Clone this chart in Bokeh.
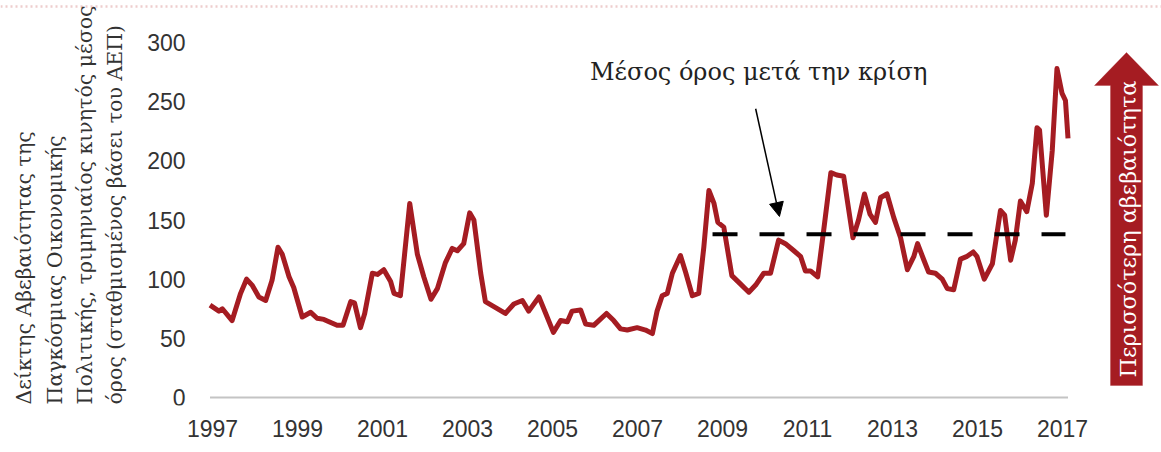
import math
from bokeh.plotting import figure
from bokeh.models import Range1d, FixedTicker, Label, Arrow, NormalHead, PolyAnnotation, BoxAnnotation
from bokeh.embed import file_html
from bokeh.resources import INLINE

# ---- data ----
years = [
    1996.94, 1997.15, 1997.23, 1997.46, 1997.66, 1997.80, 1997.93,
    1998.09, 1998.25, 1998.40, 1998.54, 1998.64, 1998.80, 1998.91,
    1999.11, 1999.31, 1999.46, 1999.62, 1999.74, 1999.93,
    2000.07, 2000.25, 2000.34, 2000.48, 2000.58, 2000.76, 2000.88,
    2001.03, 2001.19, 2001.27, 2001.42, 2001.64, 2001.82, 2001.97,
    2002.14, 2002.29, 2002.48, 2002.64, 2002.76, 2002.91,
    2003.05, 2003.15, 2003.31, 2003.42, 2003.66, 2003.89,
    2004.09, 2004.29, 2004.44, 2004.68, 2004.84,
    2005.02, 2005.19, 2005.35, 2005.46, 2005.66, 2005.78, 2005.97,
    2006.09, 2006.27, 2006.44, 2006.60, 2006.76, 2006.99,
    2007.19, 2007.35, 2007.46, 2007.58, 2007.70, 2007.82,
    2008.01, 2008.13, 2008.29, 2008.44, 2008.56, 2008.68, 2008.80, 2008.89,
    2009.03, 2009.22, 2009.42, 2009.62, 2009.78, 2009.97,
    2010.13, 2010.32, 2010.48, 2010.68, 2010.84, 2010.95,
    2011.07, 2011.24, 2011.38, 2011.55, 2011.69, 2011.85,
    2012.07, 2012.20, 2012.34, 2012.47, 2012.60, 2012.72, 2012.87,
    2013.03, 2013.19, 2013.35, 2013.50, 2013.59, 2013.74, 2013.85,
    2014.01, 2014.17, 2014.29, 2014.44, 2014.60, 2014.74, 2014.90, 2014.99,
    2015.16, 2015.35, 2015.54, 2015.64, 2015.78, 2015.89,
    2016.01, 2016.16, 2016.29, 2016.40, 2016.46, 2016.62, 2016.76, 2016.87, 2016.99,
    2017.07, 2017.13,
]
gepu = [
    78, 73, 75, 65, 88, 100, 95,
    85, 82, 99, 127, 121, 102, 93,
    68, 72, 67, 66, 64, 61,
    61, 81, 80, 59, 71, 105, 104,
    108, 98, 88, 86, 164, 121, 102,
    83, 92, 114, 126, 124, 130,
    156, 150, 105, 81, 76, 71,
    79, 82, 73, 85, 71,
    55, 65, 64, 73, 74, 62, 61,
    65, 71, 65, 58, 57, 59,
    57, 54, 73, 86, 88, 105,
    120, 106, 86, 88, 127, 175, 164, 148,
    144, 103, 96, 89, 95, 105,
    105, 133, 130, 124, 119, 107,
    107, 102, 141, 190, 188, 187,
    135, 150, 172, 155, 148, 169, 172,
    152, 135, 108, 119, 130, 116, 106,
    105, 100, 92, 91, 117, 119, 123, 119,
    100, 113, 158, 154, 116, 133,
    166, 157, 181, 228, 226, 154, 209, 278, 257,
    251, 219,
]

x_ticks = list(range(1997, 2018, 2))
y_ticks = [0, 50, 100, 150, 200, 250, 300]

post_crisis_mean = 138
mean_years = [2008.765, 2017.07]
mean_label = "Μέσος όρος μετά την κρίση"
mean_label_pos = (2009.85, 275)
mean_arrow = (2009.78, 244, 2010.34, 153)

y_title_lines = [
    "Δείκτης Αβεβαιότητας της",
    "Παγκόσμιας  Οικονομικής",
    "Πολιτικής, τριμηνιαίος κινητός μέσος",
    "όρος (σταθμισμένος βάσει του ΑΕΠ)",
]
arrow_text = "Περισσότερη αβεβαιότητα"

RED = "#a51c22"
W, H = 1161, 452
BOTTOM = 47  # space below the frame for the year labels

p = figure(width=W, height=H, output_backend="svg", toolbar_location=None,
           x_range=Range1d(1992.01, 2019.33), y_range=Range1d(-6.76, 335.5),
           min_border_left=0, min_border_right=0, min_border_top=0, min_border_bottom=BOTTOM)
p.outline_line_color = None
p.grid.visible = False
p.background_fill_color = "white"
p.border_fill_color = "white"

for ax in (p.xaxis[0], p.yaxis[0]):
    ax.axis_line_color = None
    ax.major_tick_line_color = None
    ax.minor_tick_line_color = None
    ax.major_tick_out = 0
    ax.major_tick_in = 0
    ax.major_label_text_font = "Liberation Sans"
    ax.major_label_text_font_size = "23px"
    ax.major_label_text_color = "#333333"
p.xaxis.ticker = FixedTicker(ticks=x_ticks)
p.yaxis.ticker = FixedTicker(ticks=y_ticks)
p.xaxis.major_label_standoff = 14
p.yaxis.major_label_standoff = 10
p.yaxis.fixed_location = 1996.6

# baseline at zero
p.segment(x0=[years[0]], y0=[0], x1=[years[-1]], y1=[0], line_color="#c4c4c4", line_width=2)

# series
p.line(years, gepu, line_color=RED, line_width=5, line_join="round")

# post-crisis mean
p.line(mean_years, [post_crisis_mean] * 2, line_color="black", line_width=4, line_dash="25 22")

p.add_layout(Label(x=mean_label_pos[0], y=mean_label_pos[1], text=mean_label,
                   text_align="center", text_baseline="middle",
                   text_font="DejaVu Serif", text_font_size="24px", text_color="#222222"))
p.add_layout(Arrow(x_start=mean_arrow[0], y_start=mean_arrow[1], x_end=mean_arrow[2], y_end=mean_arrow[3],
                   line_color="black", line_width=1.5,
                   end=NormalHead(size=14, fill_color="black", line_color="black")))

# y title (rotated, lines start together at the bottom)
frame_h = H - BOTTOM
for xs, line in zip([23, 54, 84, 114], y_title_lines):
    p.add_layout(Label(x=xs, y=1, x_units="screen", y_units="screen", text=line,
                       angle=math.pi / 2, text_align="left", text_baseline="middle",
                       text_font="DejaVu Serif", text_font_size="20.5px", text_color="#333333"))

# big red arrow on the right
def fy(img_y):
    return frame_h - img_y

p.add_layout(PolyAnnotation(xs=[1110, 1142, 1142, 1158, 1126, 1094, 1110],
                            ys=[fy(385), fy(385), fy(85), fy(85), fy(52), fy(85), fy(85)],
                            xs_units="screen", ys_units="screen",
                            fill_color=RED, fill_alpha=1.0, line_color=RED))
p.add_layout(Label(x=1127, y=fy(377), x_units="screen", y_units="screen", text=arrow_text,
                   angle=math.pi / 2, text_align="left", text_baseline="middle",
                   text_font="DejaVu Serif", text_font_size="22.3px", text_color="white"))

# dotted rule at the very top
p.add_layout(BoxAnnotation(left=0, right=W, top=fy(6), bottom=fy(6),
                           left_units="screen", right_units="screen",
                           top_units="screen", bottom_units="screen",
                           fill_alpha=0, line_color="#c85a5a", line_width=2.5, line_dash="2 3"))

open("out.html", "w").write(file_html(p, INLINE))
